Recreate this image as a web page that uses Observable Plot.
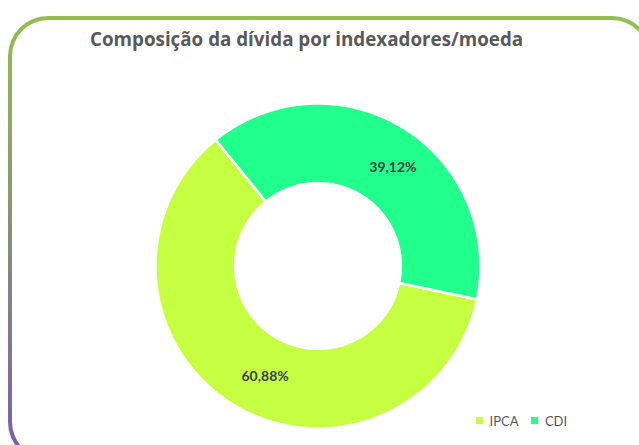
<!DOCTYPE html>
<html><head><meta charset="utf-8">
<script src="https://cdn.jsdelivr.net/npm/d3@7"></script>
<script src="https://cdn.jsdelivr.net/npm/@observablehq/plot@0.6"></script>
<style>
body{margin:0;background:#fff;}
#wrap{position:relative;width:639px;height:445px;overflow:hidden;font-family:Lato,sans-serif;}
#frame{position:absolute;left:8px;top:16px;width:644px;height:446px;box-sizing:border-box;border:4px solid transparent;border-radius:40px;background:linear-gradient(#fff,#fff) padding-box, linear-gradient(to bottom,#93bf4f,#7b5cab) border-box;}
#title{position:absolute;left:90px;top:28px;font-family:"Open Sans",sans-serif;font-weight:700;font-size:18.8px;line-height:1.2;color:#595959;white-space:nowrap;}
#chart{position:absolute;left:0;top:0;}
#legend{position:absolute;left:476px;top:404px;}
</style></head><body>
<div id="wrap"><div id="frame"></div><div id="chart"></div><div id="title">Composição da dívida por indexadores/moeda</div><div id="legend"></div></div>
<script>
const categories = ["IPCA", "CDI"];
const values = [60.88, 39.12];
const colors = ["#c6ff42", "#21ff8c"];

const fmt = v => v.toFixed(2).replace(".", ",") + "%";
const innerRatio = 0.51, startDeg = 101.8, steps = 180;
const total = d3.sum(values);
let acc = 0;
const rings = [], labelPts = [];
categories.forEach((name, i) => {
  const a0 = (startDeg + acc / total * 360) * Math.PI / 180;
  acc += values[i];
  const a1 = (startDeg + acc / total * 360) * Math.PI / 180;
  const n = Math.max(2, Math.ceil(steps * (a1 - a0) / (2 * Math.PI)));
  for (let k = 0; k <= n; k++) { const a = a0 + (a1 - a0) * k / n; rings.push({name, x: Math.sin(a), y: Math.cos(a)}); }
  for (let k = n; k >= 0; k--) { const a = a0 + (a1 - a0) * k / n; rings.push({name, x: innerRatio * Math.sin(a), y: innerRatio * Math.cos(a)}); }
  const am = (a0 + a1) / 2, rm = (1 + innerRatio) / 2;
  labelPts.push({name, label: fmt(values[i]), x: rm * Math.sin(am), y: rm * Math.cos(am)});
});

const plot = Plot.plot({
  width: 639, height: 445,
  marginLeft: 155, marginRight: 159, marginTop: 103, marginBottom: 17,
  x: {domain: [-1, 1], axis: null},
  y: {domain: [-1, 1], axis: null},
  color: {domain: categories, range: colors},
  style: {background: "transparent"},
  marks: [
    Plot.line(rings, {x: "x", y: "y", z: "name", fill: "name", stroke: "white", strokeWidth: 2.5, curve: "linear-closed"}),
    Plot.text(labelPts, {x: "x", y: "y", text: "label", dx: 11, dy: 6, fill: "#404040", fontSize: 14, fontWeight: 700, fontFamily: "Lato"})
  ]
});
document.getElementById("chart").appendChild(plot);
const leg = plot.legend("color", {swatchSize: 7, style: {fontSize: "13px", fontFamily: "Lato", color: "#595959", background: "transparent"}});
document.getElementById("legend").appendChild(leg);
</script>
</body></html>
